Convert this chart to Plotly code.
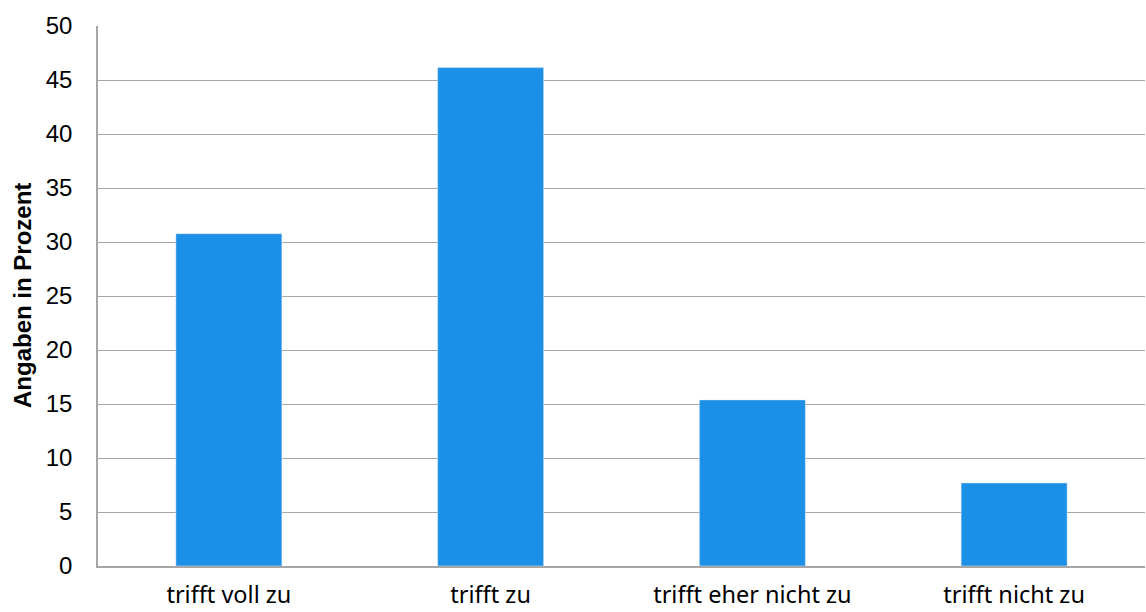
import plotly.graph_objects as go

categories = ["trifft voll zu", "trifft zu", "trifft eher nicht zu", "trifft nicht zu"]
values = [30.77, 46.15, 15.38, 7.69]
y_ticks = [0, 5, 10, 15, 20, 25, 30, 35, 40, 45, 50]
y_title = "Angaben in Prozent"

fig = go.Figure(go.Bar(x=categories, y=values, marker_color="#1b90e6", width=0.405))
fig.update_layout(
    width=1146, height=612,
    margin=dict(l=98, r=1, t=26, b=46),
    plot_bgcolor="white", paper_bgcolor="white",
    showlegend=False,
)
fig.update_xaxes(
    showgrid=False, showline=True, linecolor="#a6a6a6", linewidth=1.5,
    ticks="", automargin=False, ticklabelstandoff=7,
    tickfont=dict(family="Noto Sans, sans-serif", size=23.5, color="black"),
)
fig.update_yaxes(
    range=[0, 50], tickvals=y_ticks, showgrid=True, gridcolor="#a6a6a6", gridwidth=1.3,
    showline=True, linecolor="#a6a6a6", linewidth=1.5, ticks="", automargin=False,
    ticklabelstandoff=19,
    tickfont=dict(family="Liberation Sans, Arial, sans-serif", size=24, color="black"),
    zeroline=False,
)
fig.add_annotation(
    text="<b>" + y_title + "</b>", xref="paper", yref="paper", x=0, y=0.5,
    xanchor="center", yanchor="middle", xshift=-76, textangle=-90, showarrow=False,
    font=dict(family="Liberation Sans, Arial, sans-serif", size=24, color="black"),
)
fig.write_html("out.html", config={"displayModeBar": False}, post_script="document.body.style.margin='0';")
